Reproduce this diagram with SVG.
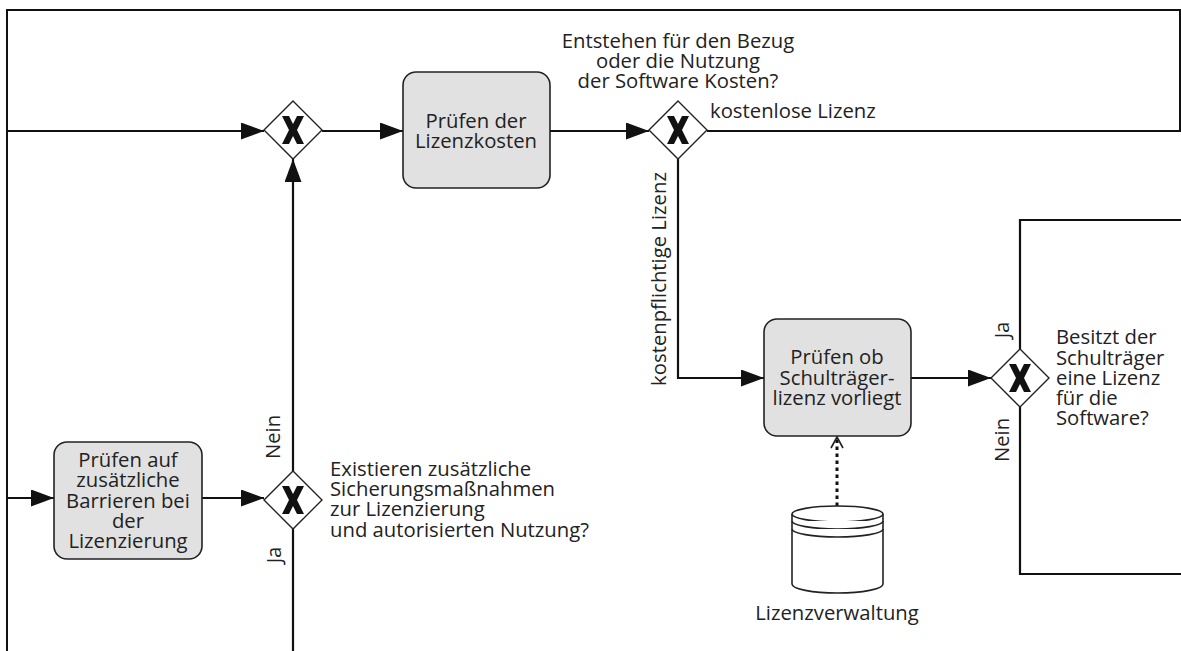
<svg xmlns="http://www.w3.org/2000/svg" width="1181" height="651" viewBox="0 0 1181 651">
<style>
  .frame{fill:none;stroke:#111;stroke-width:2}
  .flow{fill:none;stroke:#111;stroke-width:2.2}
  .task{fill:#e1e1e1;stroke:#222;stroke-width:1.6}
  .gw{fill:#fff;stroke:#222;stroke-width:1.4}
  .gx{fill:#111}
  .t{font-family:"Open Sans","Liberation Sans",sans-serif;font-size:20.3px;fill:#222}
  .c{text-anchor:middle}
  .ds{fill:#fff;stroke:#222;stroke-width:1.6}
</style>
<defs>
  <marker id="arr" markerWidth="24" markerHeight="17" refX="23" refY="8.5" orient="auto" markerUnits="userSpaceOnUse">
    <path d="M0,0 L23,8.5 L0,17 Z" fill="#111"/>
  </marker>
  <marker id="open" markerWidth="16" markerHeight="14" refX="12" refY="7" orient="auto" markerUnits="userSpaceOnUse">
    <path d="M1,1 L12,7 L1,13" fill="none" stroke="#222" stroke-width="1.6"/>
  </marker>
  <polygon id="xm" points="-11,-14 -4,-14 0,-6 4,-14 11,-14 4,0 11,14 4,14 0,6 -4,14 -11,14 -4,0"/>
</defs>
<rect width="1181" height="651" fill="#fff"/>
<g id="frame">
  <polyline class="frame" points="7,651 7,10 1180,10 1180,131"/>
</g>
<g id="connectors">
  <line class="flow" x1="7" y1="131" x2="264" y2="131" marker-end="url(#arr)"/>
  <line class="flow" x1="322" y1="131" x2="403" y2="131" marker-end="url(#arr)"/>
  <line class="flow" x1="550" y1="131" x2="649" y2="131" marker-end="url(#arr)"/>
  <line class="flow" x1="707" y1="131" x2="1181" y2="131"/>
  <polyline class="flow" points="678,159 678,378 764,378" marker-end="url(#arr)"/>
  <line class="flow" x1="911" y1="378" x2="991" y2="378" marker-end="url(#arr)"/>
  <polyline class="flow" points="1020,349 1020,220 1181,220"/>
  <polyline class="flow" points="1020,407 1020,574 1181,574"/>
  <line class="flow" x1="7" y1="498" x2="54" y2="498" marker-end="url(#arr)"/>
  <line class="flow" x1="202" y1="498" x2="264" y2="498" marker-end="url(#arr)"/>
  <line class="flow" x1="293" y1="471" x2="293" y2="159" marker-end="url(#arr)"/>
  <line class="flow" x1="293" y1="528" x2="293" y2="651"/>
  <line x1="837" y1="506" x2="837" y2="437" stroke="#111" stroke-width="3" stroke-dasharray="3.5,3.5" marker-end="url(#open)"/>
  <text class="t" x="710" y="118">kostenlose Lizenz</text>
  <text class="t c" transform="translate(666,279) rotate(-90)">kostenpflichtige Lizenz</text>
  <text class="t c" transform="translate(1009,330) rotate(-90)">Ja</text>
  <text class="t c" transform="translate(1009,440) rotate(-90)">Nein</text>
  <text class="t c" transform="translate(280,437) rotate(-90)">Nein</text>
  <text class="t c" transform="translate(281,555) rotate(-90)">Ja</text>
</g>
<g id="gw1">
  <polygon class="gw" points="293,101 322,130 293,159 264,130"/>
  <use href="#xm" class="gx" x="293" y="130"/>
</g>
<g id="task1">
  <rect class="task" x="403" y="72" width="147" height="116" rx="13"/>
  <text class="t c" x="476" y="128">Prüfen der</text>
  <text class="t c" x="476" y="148">Lizenzkosten</text>
</g>
<g id="gw2">
  <polygon class="gw" points="678,101 707,130 678,159 649,130"/>
  <use href="#xm" class="gx" x="678" y="130"/>
  <text class="t c" x="678" y="48">Entstehen für den Bezug</text>
  <text class="t c" x="678" y="68">oder die Nutzung</text>
  <text class="t c" x="678" y="88">der Software Kosten?</text>
</g>
<g id="task3">
  <rect class="task" x="764" y="319" width="147" height="117" rx="13"/>
  <text class="t c" x="837" y="364">Prüfen ob</text>
  <text class="t c" x="837" y="385">Schulträger-</text>
  <text class="t c" x="837" y="405">lizenz vorliegt</text>
</g>
<g id="gw3">
  <polygon class="gw" points="1020,349 1049,378 1020,407 991,378"/>
  <use href="#xm" class="gx" x="1020" y="378"/>
  <text class="t" x="1056" y="344">Besitzt der</text>
  <text class="t" x="1056" y="365">Schulträger</text>
  <text class="t" x="1056" y="385">eine Lizenz</text>
  <text class="t" x="1056" y="405">für die</text>
  <text class="t" x="1056" y="425">Software?</text>
</g>
<g id="datastore">
  <path class="ds" d="M792,514 L792,584 A45.5,9 0 0 0 883,584 L883,514"/>
  <ellipse class="ds" cx="837.5" cy="514" rx="45.5" ry="8"/>
  <path class="ds" d="M792,521 A45.5,8 0 0 0 883,521" fill="none"/>
  <path class="ds" d="M792,529 A45.5,8 0 0 0 883,529" fill="none"/>
  <text class="t c" x="837" y="620">Lizenzverwaltung</text>
</g>
<g id="task4">
  <rect class="task" x="54" y="442" width="148" height="117" rx="13"/>
  <text class="t c" x="128" y="467">Prüfen auf</text>
  <text class="t c" x="128" y="487">zusätzliche</text>
  <text class="t c" x="128" y="508">Barrieren bei</text>
  <text class="t c" x="128" y="528">der</text>
  <text class="t c" x="128" y="548">Lizenzierung</text>
</g>
<g id="gw4">
  <polygon class="gw" points="293,471 322,500 293,529 264,500"/>
  <use href="#xm" class="gx" x="293" y="500"/>
  <text class="t" x="330" y="476">Existieren zusätzliche</text>
  <text class="t" x="330" y="496">Sicherungsmaßnahmen</text>
  <text class="t" x="330" y="516">zur Lizenzierung</text>
  <text class="t" x="330" y="537">und autorisierten Nutzung?</text>
</g>
</svg>
